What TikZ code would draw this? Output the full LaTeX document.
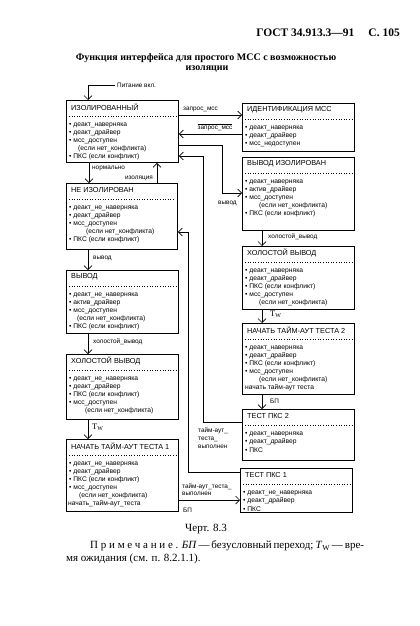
\documentclass[tikz,border=0pt]{standalone}
\usepackage{fontspec}
\setmainfont{Liberation Serif}
\setsansfont{Liberation Sans}
\usetikzlibrary{arrows.meta}

\begin{document}
\begin{tikzpicture}[x=1pt, y=-1pt, every node/.style={inner sep=0pt}]
  \useasboundingbox (0,0) rectangle (420,626);
  \tikzset{>={Straight Barb[length=4pt,width=8pt]}}
  \tikzset{
    statebox/.style={draw, line width=0.9pt, anchor=north west, minimum width=112},
    boxhead/.style={anchor=west, font=\sffamily\fontsize{7.3}{8}\selectfont},
    boxitem/.style={anchor=west, font=\sffamily\fontsize{6.7}{7}\selectfont},
    sepline/.style={line width=0.8pt, dash pattern=on 1pt off 1.6pt},
    conn/.style={->, line width=0.7pt},
    lbl/.style={anchor=west, font=\sffamily\fontsize{6.4}{7}\selectfont},
    twlbl/.style={anchor=west, font=\fontsize{8.5}{9}\selectfont},
  }
  %
  \node [anchor=east, font=\fontsize{11.5}{13}\selectfont\bfseries]  (hdr) at (400,33) {ГОСТ 34.913.3—91\hspace{14pt}С. 105};
  \node [font=\fontsize{10}{12}\selectfont\bfseries]  (ttl1) at (206,58) {Функция интерфейса для простого МСС с возможностью};
  \node [font=\fontsize{10}{12}\selectfont\bfseries]  (ttl2) at (207,69) {изоляции};
  %
  \node [statebox, minimum height=62]  (iso) at (66,100) {};
  \node [statebox, minimum height=66, minimum width=111]  (noniso) at (66,183) {};
  \node [statebox, minimum height=63]  (out) at (66,270) {};
  \node [statebox, minimum height=65]  (idle1) at (66,354) {};
  \node [statebox, minimum height=72]  (start1) at (66,439) {};
  %
  \node [statebox, minimum height=48]  (ident) at (242,103) {};
  \node [statebox, minimum height=73]  (outiso) at (242,157) {};
  \node [statebox, minimum height=63]  (idle2) at (242,246) {};
  \node [statebox, minimum height=71]  (start2) at (242,323) {};
  \node [statebox, minimum height=51]  (test2) at (242,409) {};
  \node [statebox, minimum height=44]  (test1) at (240,468) {};
  %
  \foreach \bx/\head in {iso/ИЗОЛИРОВАННЫЙ, noniso/НЕ ИЗОЛИРОВАН, out/ВЫВОД,
      idle1/ХОЛОСТОЙ ВЫВОД, start1/НАЧАТЬ ТАЙМ-АУТ ТЕСТА 1, ident/ИДЕНТИФИКАЦИЯ МСС,
      outiso/ВЫВОД ИЗОЛИРОВАН, idle2/ХОЛОСТОЙ ВЫВОД, start2/НАЧАТЬ ТАЙМ-АУТ ТЕСТА 2,
      test2/ТЕСТ ПКС 2, test1/ТЕСТ ПКС 1} {
    \node [boxhead]  (\bx-h) at ([xshift=5,yshift=-7]\bx.north west) {\head};
    \draw [sepline] ([xshift=3,yshift=-16]\bx.north west) -- ([xshift=-3,yshift=-16]\bx.north east);
  }
  %
  \foreach \dx/\t [count=\k] in {3/{\textbullet\ деакт\_наверняка}, 3/{\textbullet\ деакт\_драйвер},
      3/{\textbullet\ мсс\_доступен}, 12/{(если нет\_конфликта)}, 3/{\textbullet\ ПКС (если конфликт)}} {
    \node [boxitem]  (iso-\k) at ([xshift=\dx,yshift=-17-8*\k]iso.north west) {\t};
  }
  \foreach \dx/\t [count=\k] in {3/{\textbullet\ деакт\_не\_наверняка}, 3/{\textbullet\ деакт\_драйвер},
      3/{\textbullet\ мсс\_доступен}, 20/{(если нет\_конфликта)}, 3/{\textbullet\ ПКС (если конфликт)}} {
    \node [boxitem]  (noniso-\k) at ([xshift=\dx,yshift=-17-8*\k]noniso.north west) {\t};
  }
  \foreach \dx/\t [count=\k] in {3/{\textbullet\ деакт\_не\_наверняка}, 3/{\textbullet\ актив\_драйвер},
      3/{\textbullet\ мсс\_доступен}, 11/{(если нет\_конфликта)}, 3/{\textbullet\ ПКС (если конфликт)}} {
    \node [boxitem]  (out-\k) at ([xshift=\dx,yshift=-17-8*\k]out.north west) {\t};
  }
  \foreach \dx/\t [count=\k] in {3/{\textbullet\ деакт\_не\_наверняка}, 3/{\textbullet\ деакт\_драйвер},
      3/{\textbullet\ ПКС (если конфликт)}, 3/{\textbullet\ мсс\_доступен}, 19/{(если нет\_конфликта)}} {
    \node [boxitem]  (idle1-\k) at ([xshift=\dx,yshift=-17-8*\k]idle1.north west) {\t};
  }
  \foreach \dx/\t [count=\k] in {3/{\textbullet\ деакт\_не\_наверняка}, 3/{\textbullet\ деакт\_драйвер},
      3/{\textbullet\ ПКС (если конфликт)}, 3/{\textbullet\ мсс\_доступен}, 13/{(если нет\_конфликта)},
      2/{начать\_тайм-аут\_теста}} {
    \node [boxitem]  (start1-\k) at ([xshift=\dx,yshift=-17-8*\k]start1.north west) {\t};
  }
  \foreach \dx/\t [count=\k] in {3/{\textbullet\ деакт\_наверняка}, 3/{\textbullet\ деакт\_драйвер},
      3/{\textbullet\ мсс\_недоступен}} {
    \node [boxitem]  (ident-\k) at ([xshift=\dx,yshift=-17-8*\k]ident.north west) {\t};
  }
  \foreach \dx/\t [count=\k] in {3/{\textbullet\ деакт\_наверняка}, 3/{\textbullet\ актив\_драйвер},
      3/{\textbullet\ мсс\_доступен}, 17/{(если нет\_конфликта)}, 3/{\textbullet\ ПКС (если конфликт)}} {
    \node [boxitem]  (outiso-\k) at ([xshift=\dx,yshift=-17-8*\k]outiso.north west) {\t};
  }
  \foreach \dx/\t [count=\k] in {3/{\textbullet\ деакт\_наверняка}, 3/{\textbullet\ деакт\_драйвер},
      3/{\textbullet\ ПКС (если конфликт)}, 3/{\textbullet\ мсс\_доступен}, 17/{(если нет\_конфликта)}} {
    \node [boxitem]  (idle2-\k) at ([xshift=\dx,yshift=-17-8*\k]idle2.north west) {\t};
  }
  \foreach \dx/\t [count=\k] in {3/{\textbullet\ деакт\_наверняка}, 3/{\textbullet\ деакт\_драйвер},
      3/{\textbullet\ ПКС (если конфликт)}, 3/{\textbullet\ мсс\_доступен}, 17/{(если нет\_конфликта)},
      3/{начать тайм-аут теста}} {
    \node [boxitem]  (start2-\k) at ([xshift=\dx,yshift=-17-8*\k]start2.north west) {\t};
  }
  \foreach \dx/\t [count=\k] in {3/{\textbullet\ деакт\_наверняка}, 3/{\textbullet\ деакт\_драйвер},
      3/{\textbullet\ ПКС}} {
    \node [boxitem]  (test2-\k) at ([xshift=\dx,yshift=-17-8*\k]test2.north west) {\t};
  }
  \foreach \dx/\t [count=\k] in {3/{\textbullet\ деакт\_не\_наверняка}, 3/{\textbullet\ деакт\_драйвер},
      3/{\textbullet\ ПКС}} {
    \node [boxitem]  (test1-\k) at ([xshift=\dx,yshift=-17-8*\k]test1.north west) {\t};
  }
  %
  \coordinate (pwr) at (115,85);
  \draw [conn] (pwr) -| ([xshift=22]iso.north west);
  \node [lbl]  (pwr-l) at ([xshift=2]pwr) {Питание вкл.};
  \draw [conn] ([yshift=-15]iso.north east) -- ([yshift=-12]ident.north west);
  \node [lbl]  (req) at (183,109) {запрос\_мсс};
  \draw [conn] ([yshift=-31]ident.north west) -- ([yshift=-34]iso.north east);
  \node [lbl, anchor=center]  (nreq) at (215,127) {$\overline{\mbox{запрос\_мсс}}$};
  \draw [conn] ([yshift=-45]iso.north east) -| ([xshift=-20,yshift=-36]outiso.north west) -- ([yshift=-36]outiso.north west);
  \node [lbl]  (outp2) at (218,203) {вывод};
  %
  \draw [conn] ([xshift=23]iso.south west) -- ([xshift=23]noniso.north west);
  \node [lbl]  (norm) at (92,168) {нормально};
  \draw [conn] ([xshift=91]noniso.north west) -- ([xshift=91]iso.south west);
  \node [lbl, anchor=east]  (isol) at (153,178) {изоляция};
  \draw [conn] ([xshift=22]noniso.south west) -- ([xshift=22]out.north west);
  \node [lbl]  (outp1) at (93,258) {вывод};
  \draw [conn] ([xshift=22]out.south west) -- ([xshift=22]idle1.north west);
  \node [lbl]  (idl1) at (93,342) {холостой\_вывод};
  \draw [conn] ([xshift=22]idle1.south west) -- ([xshift=22]start1.north west);
  \node [twlbl]  (tw1) at (92,427) {T\textsubscript{W}};
  \draw [conn] ([yshift=-61]start1.north east) -- ([yshift=-32]test1.north west);
  \node [lbl]  (done1a) at (182,487) {тайм-аут\_теста\_};
  \node [lbl]  (done1b) at (182,494) {выполнен};
  \node [lbl]  (uct1) at (183,510) {БП};
  \draw [conn] ([yshift=-4]test1.north west) -| ([xshift=10,yshift=-49]noniso.north east) -- ([yshift=-49]noniso.north east);
  %
  \draw [conn] ([xshift=20]outiso.south west) -- ([xshift=20]idle2.north west);
  \node [lbl]  (idl2) at (268,237) {холостой\_вывод};
  \draw [conn] ([xshift=20]idle2.south west) -- ([xshift=20]start2.north west);
  \node [twlbl]  (tw2) at (270,314) {T\textsubscript{W}};
  \draw [conn] ([xshift=20]start2.south west) -- ([xshift=20]test2.north west);
  \node [lbl]  (uct2) at (270,401) {БП};
  \draw [conn] ([yshift=-13]test2.north west) -| ([xshift=24,yshift=-56]iso.north east) -- ([yshift=-56]iso.north east);
  \node [lbl]  (done2a) at (198,431) {тайм-аут\_};
  \node [lbl]  (done2b) at (198,439) {теста\_};
  \node [lbl]  (done2c) at (198,447) {выполнен};
  %
  \node [font=\fontsize{11}{13}\selectfont]  (fig) at (206,529) {Черт. 8.3};
  \node [anchor=west, font=\fontsize{11}{13}\selectfont]  (note1) at (90,546)
    {\makebox[265pt][s]{{\addfontfeatures{LetterSpace=25}Примечание.} \textit{БП} — безусловный переход; \textit{T}\textsubscript{W} — вре-}};
  \node [anchor=west, font=\fontsize{11}{13}\selectfont]  (note2) at (66,559) {мя ожидания (см. п. 8.2.1.1).};
\end{tikzpicture}
\end{document}
